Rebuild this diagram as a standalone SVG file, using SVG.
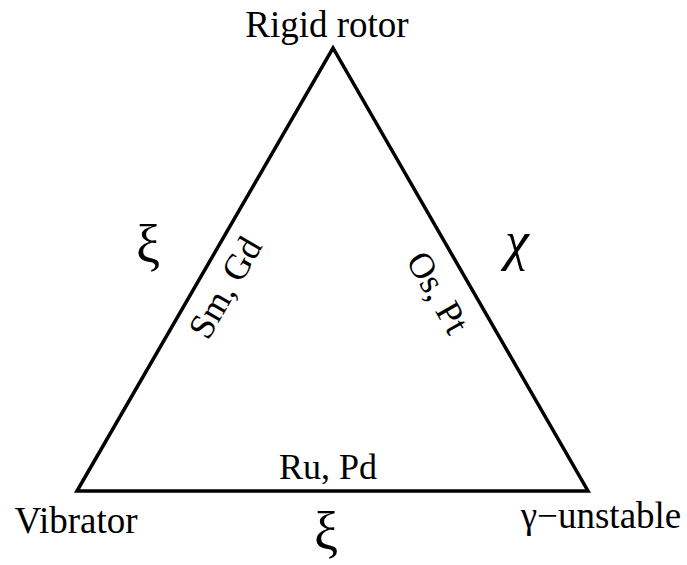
<svg xmlns="http://www.w3.org/2000/svg" width="687" height="565" viewBox="0 0 687 565">
<style>
text{font-family:"Liberation Serif","Times New Roman",serif;fill:#000}
.lbl{font-size:37px}
.ed{font-size:36px}
.gr{font-size:54px}
.it{font-style:italic}
.edge{stroke:#000;stroke-width:3.5;fill:none;stroke-linejoin:miter;stroke-linecap:square}
</style>
<rect width="687" height="565" fill="#fff"/>
<g id="connectors">
<polygon class="edge" points="77,491 333,48 588,491"/>
</g>
<g id="rigid-rotor"><text class="lbl" x="327" y="37" text-anchor="middle">Rigid rotor</text></g>
<g id="vibrator"><text class="lbl" x="76" y="533" text-anchor="middle">Vibrator</text></g>
<g id="gamma-unstable"><text class="lbl" x="601" y="528" text-anchor="middle">γ−unstable</text></g>
<g id="edge-left-label"><text class="ed" transform="translate(226,288) rotate(-60)" x="0" y="11" text-anchor="middle">Sm, Gd</text></g>
<g id="edge-right-label"><text class="ed" transform="translate(437,293) rotate(60)" x="0" y="11" text-anchor="middle">Os, Pt</text></g>
<g id="edge-bottom-label"><text class="ed" x="328" y="479" text-anchor="middle">Ru, Pd</text></g>
<g id="xi-left"><text class="gr" x="148" y="263" text-anchor="middle">ξ</text></g>
<g id="chi-right"><text class="gr it" x="517" y="259" text-anchor="middle">χ</text></g>
<g id="xi-bottom"><text class="gr" x="326" y="550" text-anchor="middle">ξ</text></g>
</svg>
